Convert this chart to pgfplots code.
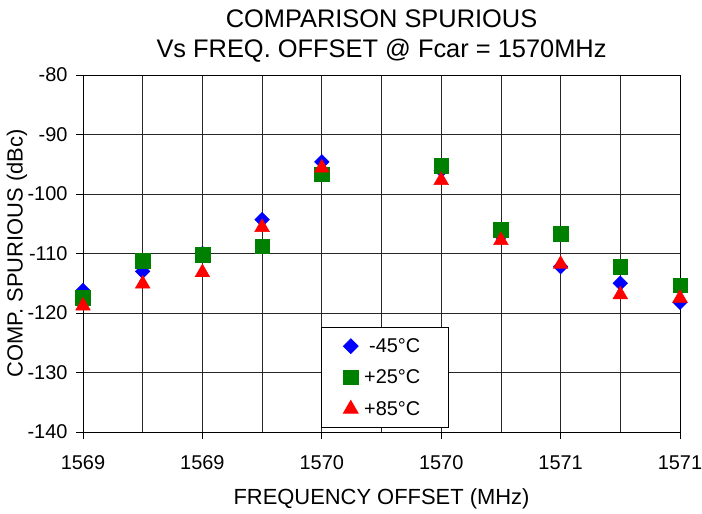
\documentclass[border=0pt]{standalone}
\usepackage{pgfplots}
\pgfplotsset{compat=1.18}
\usepackage{fontspec}
\setmainfont{Liberation Sans}
\definecolor{cblue}{RGB}{0,0,255}
\definecolor{cgreen}{RGB}{0,128,0}
\definecolor{cred}{RGB}{255,0,0}
\pgfplotstableread{
x blue green red
0 -116.2 -117.4 -118.8
1 -113.0 -111.2 -115.1
2 -110.0 -110.2 -113.2
3 -104.3 -108.8 -105.6
4 -94.6 -96.7 -95.6
6 -96.0 -95.2 -97.7
7 -107.0 -106.0 -107.8
8 -112.2 -106.7 -111.8
9 -115.0 -112.2 -116.9
10 -118.2 -115.3 -117.5
}\datatable
\begin{document}
\begin{tikzpicture}
\begin{axis}[
  scale only axis,
  width=597bp, height=357bp,
  at={(0,0)}, anchor=south west,
  xmin=0, xmax=10, ymin=-140, ymax=-80,
  xtick={0,2,4,6,8,10},
  xticklabels={1569,1569,1570,1570,1571,1571},
  minor xtick={1,3,5,7,9},
  ytick={-140,-130,-120,-110,-100,-90,-80},
  yticklabels={-140,-130,-120,-110,-100,-90,-80},
  grid=both,
  major grid style={black!85, line width=0.8bp},
  minor grid style={black!85, line width=0.8bp},
  axis line style={black, line width=0.9bp},
  tick align=outside,
  major tick length=7bp,
  minor tick length=0bp,
  tick style={black, line width=0.8bp},
  xtick pos=bottom, ytick pos=left,
  clip=false,
  tick label style={font=\fontsize{20}{24}\selectfont},
  xticklabel style={anchor=base, yshift=-30bp},
  yticklabel style={anchor=east, xshift=-5bp},
  xlabel={FREQUENCY OFFSET (MHz)},
  xlabel style={font=\fontsize{22}{26}\selectfont, at={(axis description cs:0.5,0)}, anchor=base, yshift=-72bp},
  ylabel={COMP. SPURIOUS (dBc)},
  ylabel style={font=\fontsize{22}{26}\selectfont, at={(axis description cs:0,0.5)}, anchor=center, yshift=66bp},
  title={COMPARISON SPURIOUS\\Vs FREQ. OFFSET @ Fcar = 1570MHz},
  title style={font=\fontsize{25.5}{30}\selectfont, align=center, at={(axis description cs:0.5,1)}, anchor=south, inner sep=0pt, yshift=7bp},
  legend style={at={(axis description cs:0.3987,0.294)}, anchor=north west,
    draw=black, line width=0.8bp, inner xsep=22bp, inner ysep=9bp,
    font=\fontsize{20}{24}\selectfont, row sep=12bp,
    nodes={inner xsep=6bp, inner ysep=2bp}},
  legend cell align=right,
]
\addplot[only marks, mark=square*, mark size=5.2bp, mark options={rotate=45, fill=cblue, draw=cblue}] table[x=x, y=blue] {\datatable};
\addlegendentry{-45°C}
\addplot[only marks, mark=square*, mark size=7.3bp, mark options={fill=cgreen, draw=cgreen}] table[x=x, y=green] {\datatable};
\addlegendentry{+25°C}
\addplot[only marks, mark=triangle*, mark size=8.5bp, mark options={fill=cred, draw=cred}] table[x=x, y=red] {\datatable};
\addlegendentry{+85°C}
\end{axis}
\pgfresetboundingbox
\path[use as bounding box] ([shift={(-83bp,-82bp)}]current axis.south west) rectangle ([shift={(22bp,75bp)}]current axis.north east);
\end{tikzpicture}
\end{document}
